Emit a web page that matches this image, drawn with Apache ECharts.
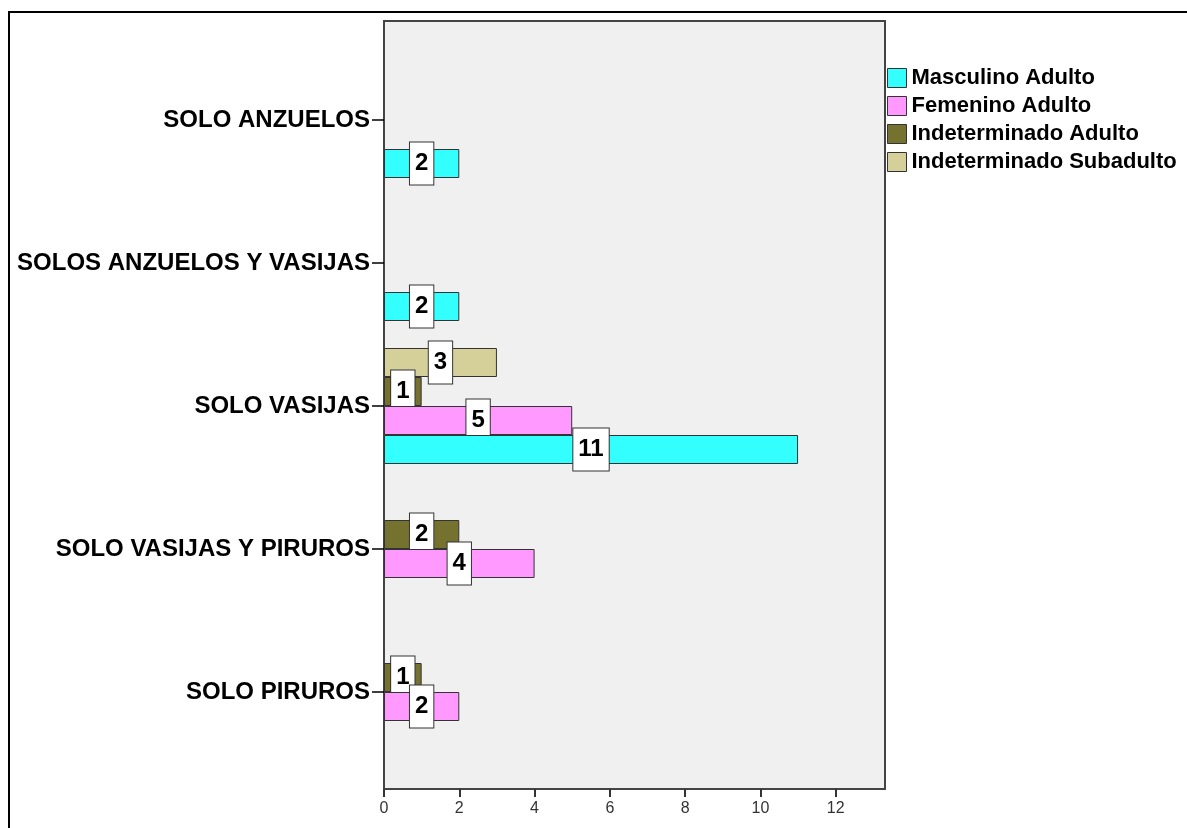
<!DOCTYPE html>
<html>
<head>
<meta charset="utf-8">
<script src="https://cdn.jsdelivr.net/npm/echarts@6/dist/echarts.min.js"></script>
<style>
html,body{margin:0;padding:0;background:#fff;}
#chart{width:1187px;height:828px;}
</style>
</head>
<body>
<div id="chart"></div>
<script>
// Data (categories listed bottom-to-top, as ECharts category y-axis draws them)
var categories = ['SOLO PIRUROS', 'SOLO VASIJAS Y PIRUROS', 'SOLO VASIJAS', 'SOLOS ANZUELOS Y VASIJAS', 'SOLO ANZUELOS'];
var seriesNames = ['Masculino Adulto', 'Femenino Adulto', 'Indeterminado Adulto', 'Indeterminado Subadulto'];
var masculinoAdulto = [null, null, 11, 2, 2];
var femeninoAdulto = [2, 4, 5, null, null];
var indeterminadoAdulto = [1, 2, 1, null, null];
var indeterminadoSubadulto = [null, null, 3, null, null];
var xTickValues = [0, 2, 4, 6, 8, 10, 12];
var xMax = 13.31;

var colors = ['#33FFFF', '#FF99FF', '#75712F', '#D5D099'];
var values = [masculinoAdulto, femeninoAdulto, indeterminadoAdulto, indeterminadoSubadulto];
var FONT = "'Liberation Sans', Arial, sans-serif";

var series = seriesNames.map(function (name, i) {
  return {
    name: name,
    type: 'bar',
    xAxisIndex: 1,
    yAxisIndex: 1,
    barWidth: 29,
    barGap: '0%',
    data: values[i],
    itemStyle: { color: colors[i], borderColor: '#333', borderWidth: 1 },
    label: {
      show: true,
      position: 'inside',
      color: '#000',
      fontFamily: FONT,
      fontWeight: 'bold',
      fontSize: 24,
      lineHeight: 24,
      backgroundColor: '#fff',
      borderColor: '#333',
      borderWidth: 1,
      padding: [9, 5, 9, 5]
    },
    emphasis: { disabled: true },
    z: 10 - i
  };
}).reverse(); // ECharts stacks the first series at the top of each band; the reference has Masculino at the bottom

var chart = echarts.init(document.getElementById('chart'), null, { renderer: 'canvas' });
chart.setOption({
  animation: false,
  backgroundColor: '#fff',
  graphic: [
    { type: 'line', shape: { x1: 8, y1: 12, x2: 1187, y2: 12 }, style: { stroke: '#000', lineWidth: 2 }, silent: true },
    { type: 'line', shape: { x1: 9, y1: 12, x2: 9, y2: 828 }, style: { stroke: '#000', lineWidth: 2 }, silent: true }
  ],
  legend: {
    data: seriesNames,
    orient: 'vertical',
    left: 887,
    top: 67,
    padding: 0,
    itemWidth: 19,
    itemHeight: 19,
    itemGap: 6,
    icon: 'rect',
    itemStyle: { borderColor: '#333', borderWidth: 1 },
    textStyle: { fontFamily: FONT, fontWeight: 'bold', fontSize: 22, color: '#000' },
    selectedMode: false
  },
  grid: [
    { left: 384, top: 21, width: 501, height: 768, show: true, backgroundColor: '#F0F0F0', borderColor: '#444', borderWidth: 2, containLabel: false },
    { left: 384, top: 48.5, width: 501, height: 715, containLabel: false }
  ],
  xAxis: [
    {
      gridIndex: 0, type: 'value', min: 0, max: xMax, position: 'bottom',
      axisLine: { show: false },
      splitLine: { show: false },
      axisTick: { show: true, length: 8, lineStyle: { color: '#333', width: 2 }, customValues: xTickValues },
      axisLabel: { color: '#333', fontFamily: FONT, fontSize: 16, margin: 12, customValues: xTickValues }
    },
    {
      gridIndex: 1, type: 'value', min: 0, max: xMax,
      show: false
    }
  ],
  yAxis: [
    { gridIndex: 0, type: 'value', show: false },
    {
      gridIndex: 1, type: 'category', data: categories,
      axisLine: { show: false },
      axisTick: { show: true, alignWithLabel: true, length: 12, lineStyle: { color: '#000', width: 1.5 } },
      axisLabel: { color: '#000', fontFamily: FONT, fontWeight: 'bold', fontSize: 24, margin: 14 }
    }
  ],
  series: series
});
</script>
</body>
</html>
